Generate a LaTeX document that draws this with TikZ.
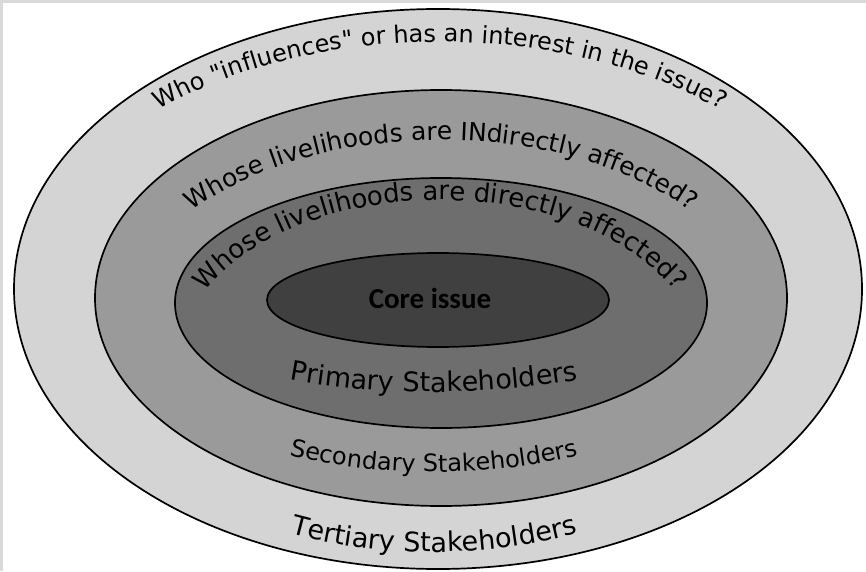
\documentclass[tikz,border=0pt]{standalone}
\usepackage{fontspec}
\setmainfont{DejaVu Sans}[Ligatures=TeXOff]
\newfontfamily\corefont{Carlito}
\usepackage{tikz}
\usetikzlibrary{decorations.text}
\usepackage{xcolor}
\definecolor{frame grey}{RGB}{218,218,218}
\definecolor{tertiary grey}{RGB}{212,212,212}
\definecolor{secondary grey}{RGB}{154,154,154}
\definecolor{primary grey}{RGB}{110,110,110}
\definecolor{core grey}{RGB}{64,64,64}

\begin{document}
\begin{tikzpicture}[x=1pt, y=1pt, ring/.style={draw=black, line width=1.7pt}, arc text/.style={decorate, decoration={text along path, text align=center, text={#1}}}]
\useasboundingbox (0,0) rectangle (866,571);
\fill[white] (0,0) rectangle (866,571);
\fill[frame grey] (0,568) rectangle (866,571);
\fill[frame grey] (0,0) rectangle (3,571);
% the rings, outside in
\filldraw[ring, fill=tertiary grey] (438,282) ellipse [x radius=424, y radius=280];
\filldraw[ring, fill=secondary grey] (441,273) ellipse [x radius=346, y radius=208];
\filldraw[ring, fill=primary grey] (441,268) ellipse [x radius=266, y radius=125];
\filldraw[ring, fill=core grey] (438,271) ellipse [x radius=171, y radius=47];
\node[font=\corefont\bfseries\fontsize{29}{29}\selectfont] (core) at (430,273) {Core issue};
% questions along the tops
\path[arc text={|\fontsize{24}{24}\selectfont|Who "influences" or has an interest in the issue?}] (30,279) arc[start angle=180, end angle=0, x radius=410, y radius=250];
\path[arc text={|\fontsize{25}{25}\selectfont|Whose livelihoods are INdirectly affected?}] (121,241) arc[start angle=180, end angle=0, x radius=320, y radius=190];
\path[arc text={|\fontsize{26}{26}\selectfont|Whose livelihoods are directly affected?}] (180,211) arc[start angle=180, end angle=0, x radius=260, y radius=160];
% names along the bottoms
\path[arc text={|\fontsize{27}{27}\selectfont|Primary Stakeholders}] (134,279) arc[start angle=180, end angle=360, x radius=300, y radius=100];
\path[arc text={|\fontsize{24}{24}\selectfont|Secondary Stakeholders}] (134,235) arc[start angle=180, end angle=360, x radius=300, y radius=136];
\path[arc text={|\fontsize{27}{27}\selectfont|Tertiary Stakeholders}] (134,171) arc[start angle=180, end angle=360, x radius=300, y radius=152];
\end{tikzpicture}
\end{document}
